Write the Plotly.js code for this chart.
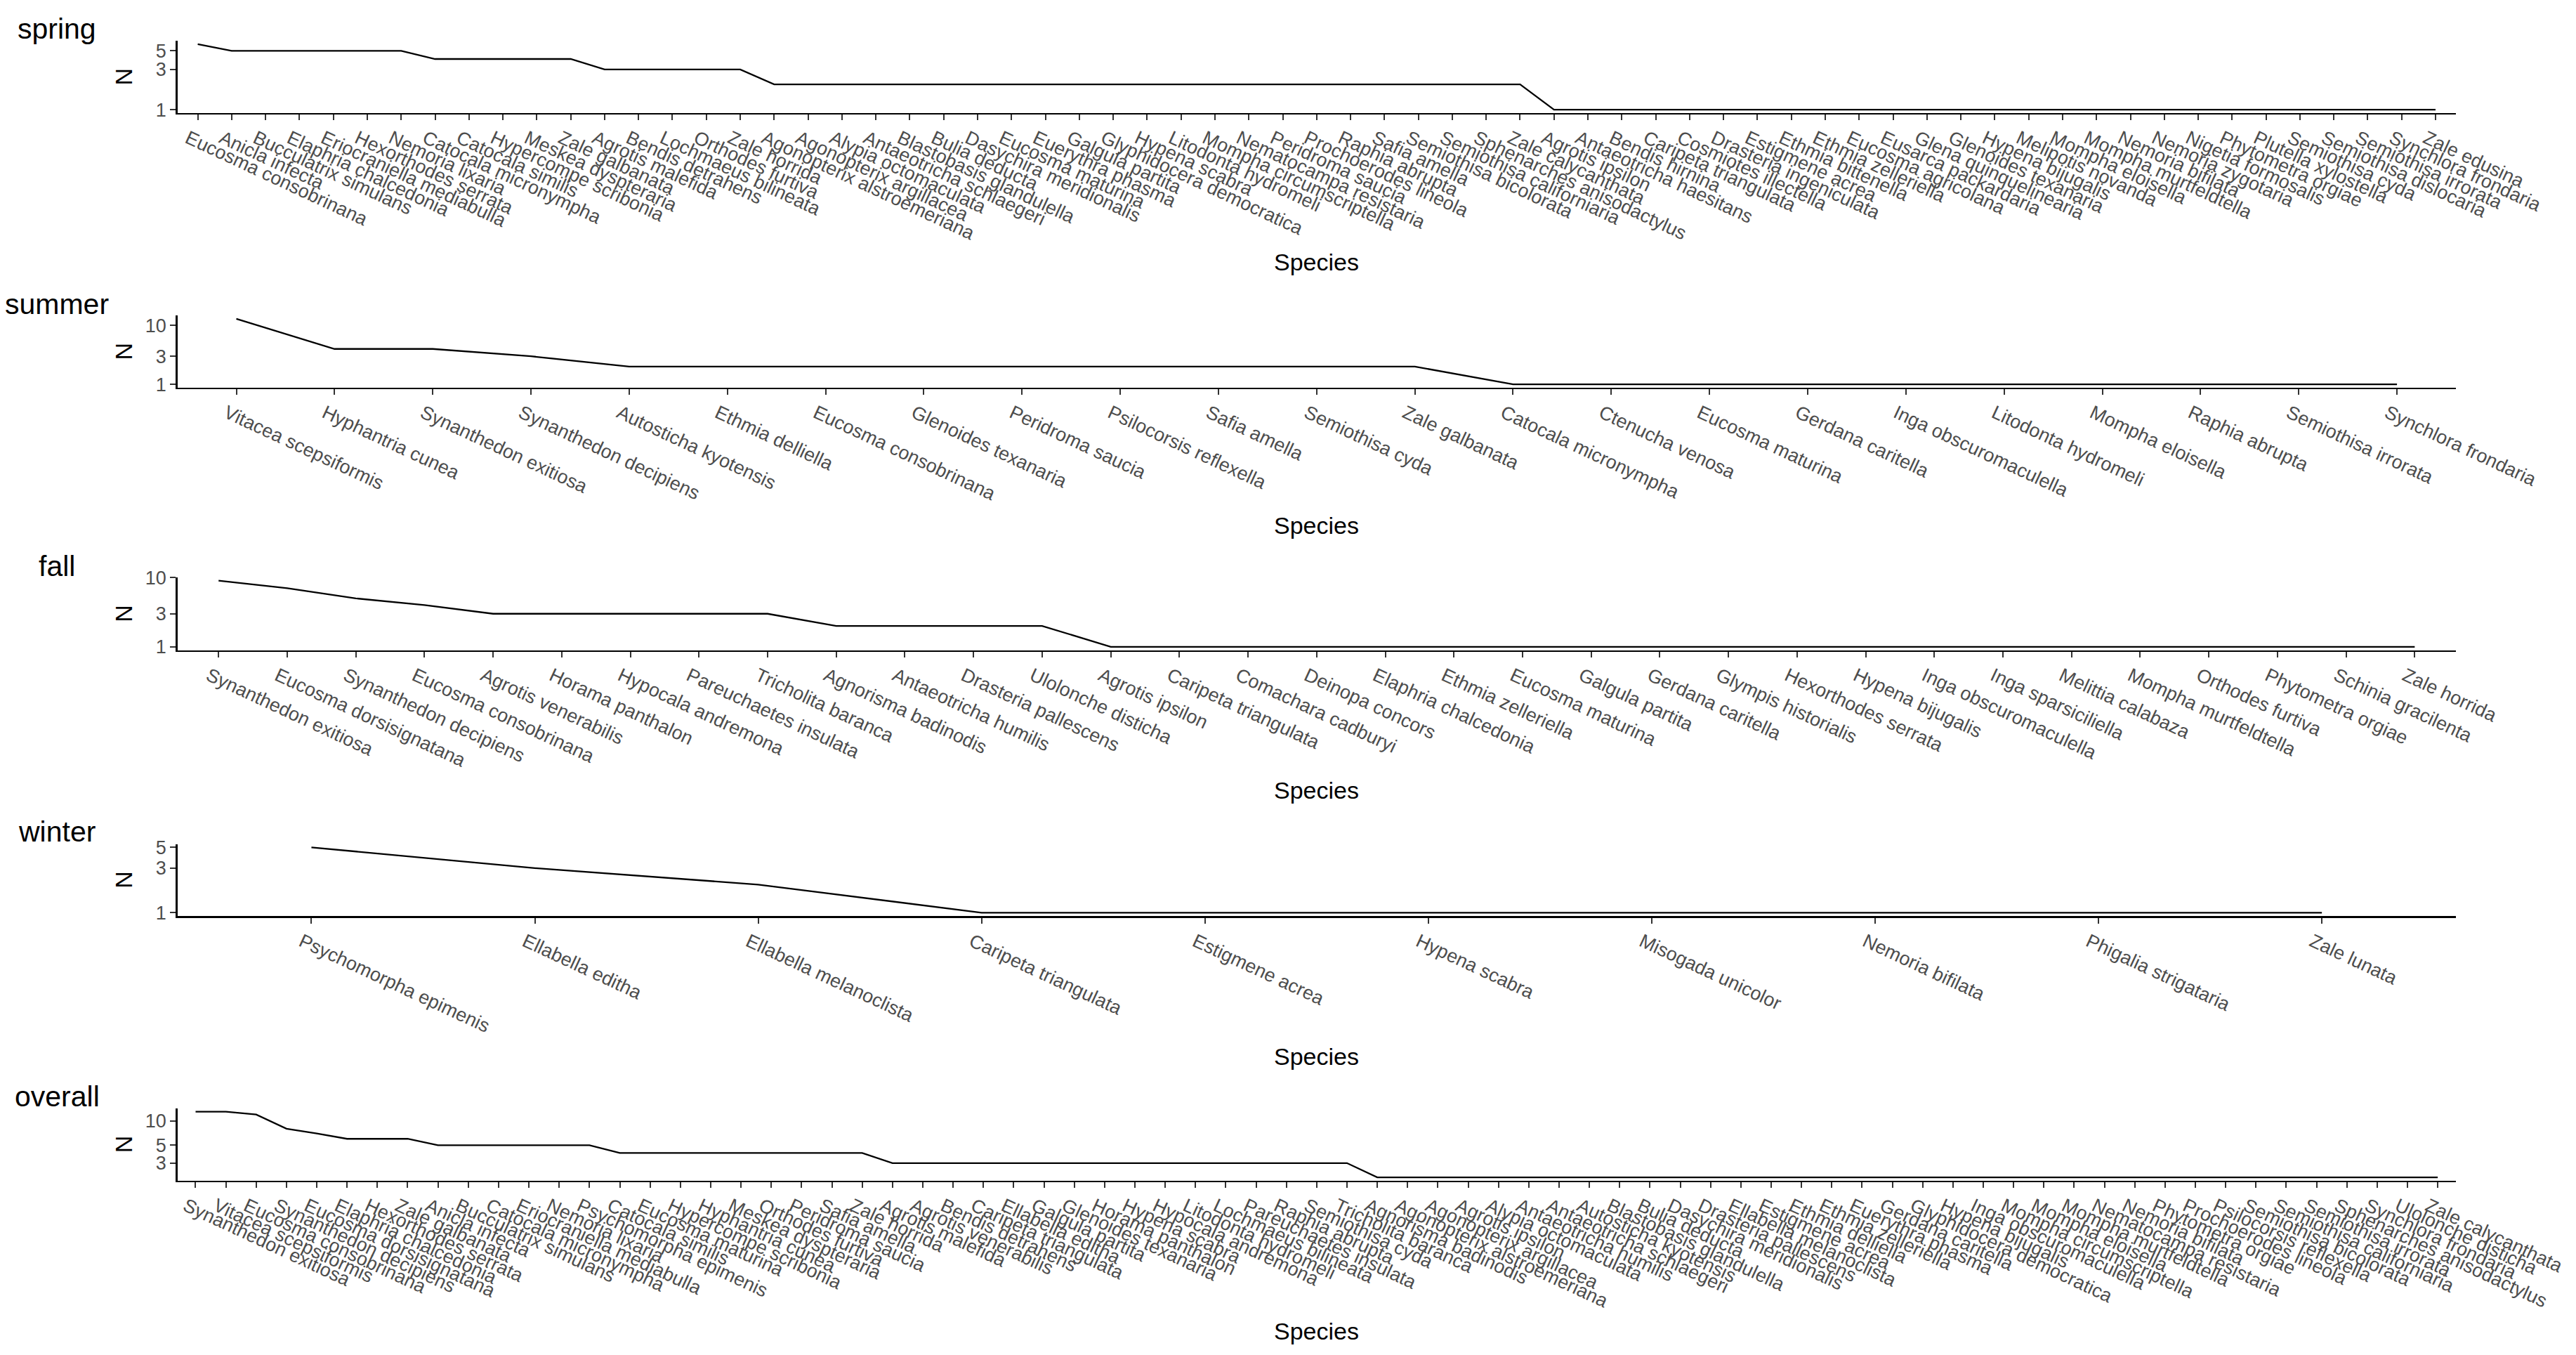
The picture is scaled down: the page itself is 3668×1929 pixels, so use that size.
<!DOCTYPE html>
<html><head><meta charset="utf-8">
<script src="https://cdn.plot.ly/plotly-3.0.1.min.js"></script>
<style>html,body{margin:0;padding:0;background:#fff;} #chart{width:3668px;height:1929px;}</style>
</head><body><div id="chart"></div>
<script>
// ---------- DATA ----------
const springSpecies = ["Eucosma consobrinana","Anicla infecta","Bucculatrix simulans","Elaphria chalcedonia","Eriocraniella mediabulla","Hexorthodes serrata","Nemoria lixaria","Catocala micronympha","Catocala similis","Hypercompe scribonia","Meskea dyspteraria","Zale galbanata","Agrotis malefida","Bendis detrahens","Lochmaeus bilineata","Orthodes furtiva","Zale horrida","Agonopterix alstroemeriana","Agonopterix argillacea","Alypia octomaculata","Antaeotricha schlaegeri","Blastobasis glandulella","Bulia deducta","Dasychira meridionalis","Eucosma maturina","Euerythra phasma","Galgula partita","Glyphidocera democratica","Hypena scabra","Litodonta hydromeli","Mompha circumscriptella","Nematocampa resistaria","Peridroma saucia","Prochoerodes lineola","Raphia abrupta","Safia amella","Semiothisa bicolorata","Semiothisa californiaria","Sphenarches anisodactylus","Zale calycanthata","Agrotis ipsilon","Antaeotricha haesitans","Bendis hirnina","Caripeta triangulata","Cosmiotes illectella","Drasteria ingeniculata","Estigmene acrea","Ethmia bittenella","Ethmia zelleriella","Eucosma agricolana","Eusarca packardaria","Glena quinquelinearia","Glenoides texanaria","Hypena bijugalis","Melipotis novanda","Mompha eloisella","Mompha murtfeldtella","Nemoria bifilata","Nemoria zygotaria","Nigetia formosalis","Phytometra orgiae","Plutella xylostella","Semiothisa cyda","Semiothisa dislocaria","Semiothisa irrorata","Synchlora frondaria","Zale edusina"];
const springN = [6,5,5,5,5,5,5,4,4,4,4,4,3,3,3,3,3,2,2,2,2,2,2,2,2,2,2,2,2,2,2,2,2,2,2,2,2,2,2,2,1,1,1,1,1,1,1,1,1,1,1,1,1,1,1,1,1,1,1,1,1,1,1,1,1,1,1];

const summerSpecies = ["Vitacea scepsiformis","Hyphantria cunea","Synanthedon exitiosa","Synanthedon decipiens","Autosticha kyotensis","Ethmia delliella","Eucosma consobrinana","Glenoides texanaria","Peridroma saucia","Psilocorsis reflexella","Safia amella","Semiothisa cyda","Zale galbanata","Catocala micronympha","Ctenucha venosa","Eucosma maturina","Gerdana caritella","Inga obscuromaculella","Litodonta hydromeli","Mompha eloisella","Raphia abrupta","Semiothisa irrorata","Synchlora frondaria"];
const summerN = [13,4,4,3,2,2,2,2,2,2,2,2,2,1,1,1,1,1,1,1,1,1,1];

const fallSpecies = ["Synanthedon exitiosa","Eucosma dorsisignatana","Synanthedon decipiens","Eucosma consobrinana","Agrotis venerabilis","Horama panthalon","Hypocala andremona","Pareuchaetes insulata","Tricholita baranca","Agnorisma badinodis","Antaeotricha humilis","Drasteria pallescens","Ulolonche disticha","Agrotis ipsilon","Caripeta triangulata","Comachara cadburyi","Deinopa concors","Elaphria chalcedonia","Ethmia zelleriella","Eucosma maturina","Galgula partita","Gerdana caritella","Glympis historialis","Hexorthodes serrata","Hypena bijugalis","Inga obscuromaculella","Inga sparsiciliella","Melittia calabaza","Mompha murtfeldtella","Orthodes furtiva","Phytometra orgiae","Schinia gracilenta","Zale horrida"];
const fallN = [9,7,5,4,3,3,3,3,3,2,2,2,2,1,1,1,1,1,1,1,1,1,1,1,1,1,1,1,1,1,1,1,1];

const winterSpecies = ["Psychomorpha epimenis","Ellabella editha","Ellabella melanoclista","Caripeta triangulata","Estigmene acrea","Hypena scabra","Misogada unicolor","Nemoria bifilata","Phigalia strigataria","Zale lunata"];
const winterN = [5,3,2,1,1,1,1,1,1,1];

const overallSpecies = ["Synanthedon exitiosa","Vitacea scepsiformis","Eucosma consobrinana","Synanthedon decipiens","Eucosma dorsisignatana","Elaphria chalcedonia","Hexorthodes serrata","Zale galbanata","Anicla infecta","Bucculatrix simulans","Catocala micronympha","Eriocraniella mediabulla","Nemoria lixaria","Psychomorpha epimenis","Catocala similis","Eucosma maturina","Hypercompe scribonia","Hyphantria cunea","Meskea dyspteraria","Orthodes furtiva","Peridroma saucia","Safia amella","Zale horrida","Agrotis malefida","Agrotis venerabilis","Bendis detrahens","Caripeta triangulata","Ellabella editha","Galgula partita","Glenoides texanaria","Horama panthalon","Hypena scabra","Hypocala andremona","Litodonta hydromeli","Lochmaeus bilineata","Pareuchaetes insulata","Raphia abrupta","Semiothisa cyda","Tricholita baranca","Agnorisma badinodis","Agonopterix alstroemeriana","Agonopterix argillacea","Agrotis ipsilon","Alypia octomaculata","Antaeotricha humilis","Antaeotricha schlaegeri","Autosticha kyotensis","Blastobasis glandulella","Bulia deducta","Dasychira meridionalis","Drasteria pallescens","Ellabella melanoclista","Estigmene acrea","Ethmia delliella","Ethmia zelleriella","Euerythra phasma","Gerdana caritella","Glyphidocera democratica","Hypena bijugalis","Inga obscuromaculella","Mompha circumscriptella","Mompha eloisella","Mompha murtfeldtella","Nematocampa resistaria","Nemoria bifilata","Phytometra orgiae","Prochoerodes lineola","Psilocorsis reflexella","Semiothisa bicolorata","Semiothisa californiaria","Semiothisa irrorata","Sphenarches anisodactylus","Synchlora frondaria","Ulolonche disticha","Zale calycanthata"];
const overallN = [13,13,12,8,7,6,6,6,5,5,5,5,5,5,4,4,4,4,4,4,4,4,4,3,3,3,3,3,3,3,3,3,3,3,3,3,3,3,3,2,2,2,2,2,2,2,2,2,2,2,2,2,2,2,2,2,2,2,2,2,2,2,2,2,2,2,2,2,2,2,2,2,2,2,2];

const panelNames = ["spring","summer","fall","winter","overall"];
const yTickVals = [[1,3,5],[1,3,10],[1,3,10],[1,3,5],[3,5,10]];
const xTitle = "Species";
const yTitle = "N";

// ---------- LAYOUT ----------
const W = 3668, H = 1929;
const fx = p => p / W, fy = p => 1 - p / H;
const seriesX = [springSpecies, summerSpecies, fallSpecies, winterSpecies, overallSpecies];
const seriesY = [springN, summerN, fallN, winterN, overallN];
const boxes = [
  {top:58.3,  bottom:160.7, titleTop:16,   speciesY:373},
  {top:449.3, bottom:551.7, titleTop:408,  speciesY:748},
  {top:822,   bottom:925.5, titleTop:781,  speciesY:1125},
  {top:1201.7,bottom:1304,  titleTop:1159, speciesY:1504},
  {top:1578,  bottom:1680.7,titleTop:1536, speciesY:1895}
];
const FONT = 'Liberation Sans, Arial, sans-serif';
const data = [];
const layout = {
  width: W, height: H, margin: {l:0, r:0, t:0, b:0},
  paper_bgcolor: '#ffffff', plot_bgcolor: '#ffffff', showlegend: false,
  font: {family: FONT, color: '#000'}, annotations: []
};

panelNames.forEach((name, i) => {
  const k = i === 0 ? '' : String(i + 1);
  const xs = seriesX[i], ys = seriesY[i], b = boxes[i];
  data.push({x: xs, y: ys, type: 'scatter', mode: 'lines',
    line: {color: '#000', width: 2.3}, xaxis: 'x' + k, yaxis: 'y' + k, hoverinfo: 'x+y'});
  const lo = Math.log10(Math.min(...ys)), hi = Math.log10(Math.max(...ys)), ex = (hi - lo) * 0.05;
  layout['xaxis' + k] = {
    domain: [fx(252.6), fx(3497)], anchor: 'y' + k, type: 'category',
    categoryorder: 'array', categoryarray: xs, range: [-0.6, xs.length - 0.4],
    tickmode: 'array', tickvals: xs, ticktext: xs, tickangle: 25, ticklabelshift: -14,
    showline: true, linecolor: '#000', linewidth: 2.5, ticks: 'outside', ticklen: 8,
    tickwidth: 2, tickcolor: '#333', showgrid: false, zeroline: false,
    tickfont: {size: 27, color: '#4D4D4D', family: FONT}, fixedrange: true
  };
  layout['yaxis' + k] = {
    domain: [fy(b.bottom), fy(b.top)], anchor: 'x' + k, type: 'log',
    range: [lo - ex, hi + ex], tickmode: 'array', tickvals: yTickVals[i],
    ticktext: yTickVals[i].map(String),
    showline: true, linecolor: '#000', linewidth: 2.5, ticks: 'outside', ticklen: 8,
    tickwidth: 2, tickcolor: '#333', showgrid: false, zeroline: false,
    tickfont: {size: 27, color: '#4D4D4D', family: FONT}, fixedrange: true
  };
  layout.annotations.push({text: name, x: fx(81), y: fy(b.titleTop), xref: 'paper', yref: 'paper',
    xanchor: 'center', yanchor: 'top', showarrow: false, font: {size: 41, color: '#000', family: FONT}});
  layout.annotations.push({text: yTitle, x: fx(176), y: fy((b.top + b.bottom) / 2), xref: 'paper', yref: 'paper',
    xanchor: 'center', yanchor: 'middle', textangle: -90, showarrow: false, font: {size: 34, color: '#000', family: FONT}});
  layout.annotations.push({text: xTitle, x: fx(1875), y: fy(b.speciesY), xref: 'paper', yref: 'paper',
    xanchor: 'center', yanchor: 'middle', showarrow: false, font: {size: 34, color: '#000', family: FONT}});
});

Plotly.newPlot('chart', data, layout, {displayModeBar: false, staticPlot: true});
</script>
</body></html>
